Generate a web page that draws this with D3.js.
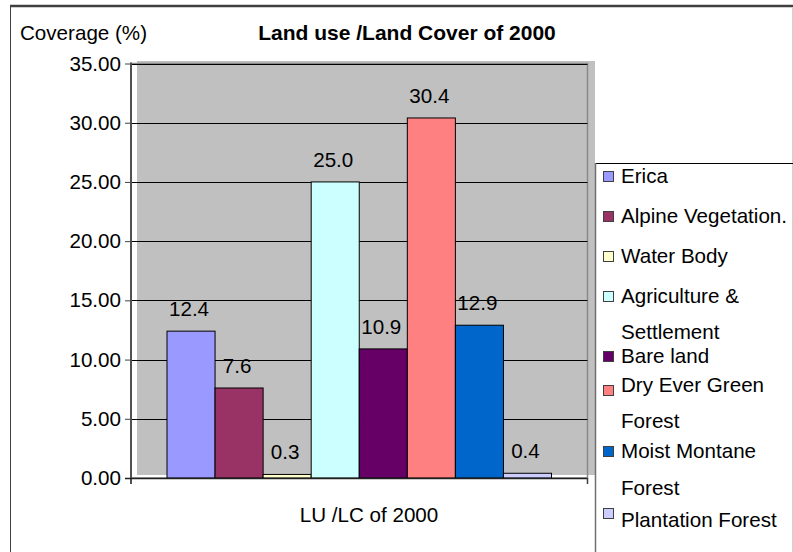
<!DOCTYPE html>
<html>
<head>
<meta charset="utf-8">
<script src="https://cdnjs.cloudflare.com/ajax/libs/d3/7.8.5/d3.min.js"></script>
<style>
  html, body { margin: 0; padding: 0; background: #fff; }
  svg { display: block; font-family: "Liberation Sans", Arial, sans-serif; }
</style>
</head>
<body>
<svg id="chart" width="793" height="552"></svg>
<script>
// Land use / land cover classes and their share of the area (%)
const classes = ["Erica", "Alpine Vegetation.", "Water Body", "Agriculture & Settlement",
                 "Bare land", "Dry Ever Green Forest", "Moist Montane Forest", "Plantation Forest"];
const coverage = [12.4, 7.6, 0.3, 25.0, 10.9, 30.4, 12.9, 0.4];
const colors = ["#9999FF", "#993366", "#FFFFCC", "#CCFFFF", "#660066", "#FF8080", "#0066CC", "#CCCCFF"];
// Wrapped legend text for each class
const legendLines = [["Erica"], ["Alpine Vegetation."], ["Water Body"], ["Agriculture &", "Settlement"],
                     ["Bare land"], ["Dry Ever Green", "Forest"], ["Moist Montane", "Forest"], ["Plantation Forest"]];
const yTicks = [0, 5, 10, 15, 20, 25, 30, 35];
const titleText = "Land use /Land Cover of 2000";
const yTitle = "Coverage (%)";
const xTitle = "LU /LC of 2000";

const svg = d3.select("#chart");
const FS = 20.6;

// Plot frame
const plot = { left: 131, right: 587.5, top: 63.5, bottom: 478 };

const y = d3.scaleLinear().domain([0, 35]).range([plot.bottom, plot.top]);
const x = d3.scaleBand().domain(classes)
  .range([plot.left + 36, plot.right - 36]).paddingInner(0).paddingOuter(0);

// Outer chart frame
svg.append("line").attr("x1", 10).attr("x2", 793).attr("y1", 6).attr("y2", 6)
  .attr("stroke", "#404040").attr("stroke-width", 2.5);
svg.append("line").attr("x1", 10.5).attr("x2", 10.5).attr("y1", 5).attr("y2", 552)
  .attr("stroke", "#404040").attr("stroke-width", 1);
svg.append("line").attr("x1", 792.5).attr("x2", 792.5).attr("y1", 7).attr("y2", 552)
  .attr("stroke", "#d0d0d0").attr("stroke-width", 1);

// Plot area fill and border
svg.append("rect").attr("x", 137).attr("y", 61).attr("width", 595 - 137).attr("height", 475 - 61)
  .attr("fill", "#C0C0C0");
svg.append("rect").attr("x", plot.left).attr("y", plot.top).attr("width", plot.right - plot.left)
  .attr("height", plot.bottom - plot.top).attr("fill", "none").attr("stroke", "#8a8a8a").attr("stroke-width", 1.5);

// Gridlines
svg.append("g").selectAll("line").data(yTicks.filter(d => d > 0)).join("line")
  .attr("x1", plot.left).attr("x2", plot.right)
  .attr("y1", d => Math.round(y(d)) + 0.5).attr("y2", d => Math.round(y(d)) + 0.5)
  .attr("stroke", "#000").attr("stroke-width", 1);

// Bars
svg.append("g").selectAll("rect").data(classes).join("rect")
  .attr("x", d => x(d)).attr("width", x.bandwidth())
  .attr("y", (d, i) => y(coverage[i])).attr("height", (d, i) => plot.bottom - y(coverage[i]))
  .attr("fill", (d, i) => colors[i]).attr("stroke", "#000").attr("stroke-width", 1);

// Value labels
svg.append("g").selectAll("text").data(classes).join("text")
  .attr("x", d => x(d) + x.bandwidth() / 2 - 2).attr("y", (d, i) => y(coverage[i]) - 15)
  .attr("text-anchor", "middle").attr("font-size", FS).attr("fill", "#000")
  .text((d, i) => coverage[i].toFixed(1));

// Y axis
const yAxis = d3.axisLeft(y).tickValues(yTicks).tickFormat(d3.format(".2f"))
  .tickSize(6).tickPadding(4);
const ga = svg.append("g").attr("transform", `translate(${plot.left},0)`).call(yAxis);
ga.select(".domain").remove();
ga.selectAll(".tick line").attr("stroke", "#404040");
ga.selectAll(".tick text").attr("font-size", FS).attr("fill", "#000")
  .attr("font-family", "'Liberation Sans', Arial, sans-serif");
svg.append("line").attr("x1", plot.left).attr("x2", plot.left).attr("y1", plot.top - 1).attr("y2", plot.bottom + 6)
  .attr("stroke", "#505050").attr("stroke-width", 2);

// X axis
svg.append("line").attr("x1", plot.left - 6).attr("x2", plot.right).attr("y1", plot.bottom + 0.5).attr("y2", plot.bottom + 0.5)
  .attr("stroke", "#202020").attr("stroke-width", 1.5);
svg.append("line").attr("x1", plot.right).attr("x2", plot.right).attr("y1", plot.bottom).attr("y2", plot.bottom + 6)
  .attr("stroke", "#404040").attr("stroke-width", 1.5);

// Titles
svg.append("text").attr("x", 407).attr("y", 40).attr("text-anchor", "middle")
  .attr("font-size", 21).attr("font-weight", "bold").text(titleText);
svg.append("text").attr("x", 20).attr("y", 40).attr("font-size", FS).text(yTitle);
svg.append("text").attr("x", 369).attr("y", 522).attr("text-anchor", "middle")
  .attr("font-size", FS).text(xTitle);

// Legend box
svg.append("line").attr("x1", 595).attr("x2", 793).attr("y1", 163.5).attr("y2", 163.5)
  .attr("stroke", "#000").attr("stroke-width", 1);
svg.append("line").attr("x1", 595.5).attr("x2", 595.5).attr("y1", 163).attr("y2", 552)
  .attr("stroke", "#707070").attr("stroke-width", 1.5);

// Legend rows: text baselines and swatch tops per entry
const rowBaselines = [[183], [223], [263], [303, 339], [363], [392, 428], [458, 495], [527]];
const swatchTops = [171, 211, 251, 291, 351, 385, 446, 508];
const leg = svg.append("g").selectAll("g").data(classes).join("g");
leg.append("rect").attr("x", 603.5).attr("y", (d, i) => swatchTops[i] + 0.5)
  .attr("width", 10).attr("height", 10)
  .attr("fill", (d, i) => colors[i]).attr("stroke", "#404040").attr("stroke-width", 1);
leg.each(function (d, i) {
  d3.select(this).selectAll("text").data(legendLines[i]).join("text")
    .attr("x", 621).attr("y", (t, j) => rowBaselines[i][j])
    .attr("font-size", FS).attr("fill", "#000").text(t => t);
});
</script>
</body>
</html>
